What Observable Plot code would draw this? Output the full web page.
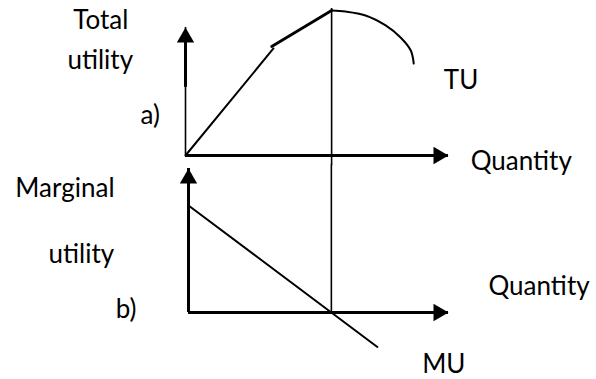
<!DOCTYPE html>
<html>
<head>
<meta charset="utf-8">
<script src="https://cdn.jsdelivr.net/npm/d3@7"></script>
<script src="https://cdn.jsdelivr.net/npm/@observablehq/plot@0.6"></script>
<style>
  html, body { margin: 0; padding: 0; background: white; }
  #chart { width: 596px; height: 379px; position: relative; }
  #chart svg { display: block; overflow: visible; background: transparent; }
</style>
</head>
<body>
<div id="chart"></div>
<script>
// ---- Panel a) Total utility (quantity, utility units) ----
const tuRising = [{q: 0, u: 0}, {q: 3.01, u: 7.38}];
const tuFlattening = [{q: 2.95, u: 7.52}, {q: 5, u: 10}];
const tuFalling = [
  {q: 5, u: 10}, {q: 5.48, u: 9.93}, {q: 6.16, u: 9.66}, {q: 6.85, u: 8.97},
  {q: 7.36, u: 8.14}, {q: 7.71, u: 7.24}, {q: 7.81, u: 6.34}
];
const maxUtilityQuantity = 5;
const topAxisEnd = {q: 9, u: 8.83};
const topLabels = [
  {q: -3.84, u: 8.69, text: "Total"},
  {q: -4.04, u: 6.0, text: "utility"},
  {q: -1.54, u: 2.14, text: "a)"},
  {q: 8.84, u: 4.62, text: "TU"},
  {q: 9.76, u: -0.97, text: "Quantity"}
];

// ---- Panel b) Marginal utility ----
const muLine = [{q: 0, m: 10}, {q: 6.61, m: -3.22}];
const bottomAxisEnd = {q: 9.1, m: 13.46};
const bottomLabels = [
  {q: -6.06, m: 10.75, text: "Marginal"},
  {q: -4.9, m: 4.67, text: "utility"},
  {q: -2.55, m: -0.56, text: "b)"},
  {q: 10.5, m: 1.59, text: "Quantity"},
  {q: 8.18, m: -5.70, text: "MU"}
];

const font = {fontFamily: "Lato, 'Open Sans', sans-serif", fontSize: 26, fill: "black", textAnchor: "start", lineAnchor: "bottom"};
const head = {symbol: "triangle", r: 6.43, fill: "black", stroke: "none"};

const panelA = Plot.plot({
  width: 596, height: 165,
  marginLeft: 185, marginRight: 148, marginTop: 10, marginBottom: 10,
  x: {domain: [0, 9], axis: null},
  y: {domain: [0, 10], axis: null},
  style: {background: "transparent", overflow: "visible"},
  marks: [
    Plot.ruleX([0], {y1: 0, y2: topAxisEnd.u, stroke: "black", strokeWidth: 1.6}),
    Plot.ruleX([0], {y1: 4.7, y2: 7.9, stroke: "black", strokeWidth: 3}),
    Plot.dot([topAxisEnd], {x: () => 0, y: "u", ...head, dy: 10}),
    Plot.ruleY([0], {x1: 0, x2: topAxisEnd.q, stroke: "black", strokeWidth: 3}),
    Plot.dot([topAxisEnd], {x: "q", y: () => 0, ...head, rotate: 90, dx: -10}),
    Plot.ruleX([maxUtilityQuantity], {y1: 10.14, y2: -0.7, stroke: "black", strokeWidth: 1.6}),
    Plot.line(tuRising, {x: "q", y: "u", stroke: "black", strokeWidth: 2}),
    Plot.line(tuFlattening, {x: "q", y: "u", stroke: "black", strokeWidth: 2.8}),
    Plot.line(tuFalling, {x: "q", y: "u", stroke: "black", strokeWidth: 2, curve: "catmull-rom"}),
    Plot.text(topLabels, {x: "q", y: "u", text: "text", ...font})
  ]
});

const panelB = Plot.plot({
  width: 596, height: 214,
  marginLeft: 188, marginRight: 148, marginTop: 40, marginBottom: 67,
  x: {domain: [0, 9.1], axis: null},
  y: {domain: [0, 10], axis: null},
  style: {background: "transparent", overflow: "visible"},
  marks: [
    Plot.ruleX([0], {y1: 0, y2: bottomAxisEnd.m, stroke: "black", strokeWidth: 3}),
    Plot.dot([bottomAxisEnd], {x: () => 0, y: "m", ...head, dy: 10}),
    Plot.ruleY([0], {x1: 0, x2: bottomAxisEnd.q, stroke: "black", strokeWidth: 3}),
    Plot.dot([bottomAxisEnd], {x: "q", y: () => 0, ...head, rotate: 90, dx: -10}),
    Plot.ruleX([maxUtilityQuantity], {y1: 0, y2: 13.8, stroke: "black", strokeWidth: 1.6}),
    Plot.line(muLine, {x: "q", y: "m", stroke: "black", strokeWidth: 2}),
    Plot.text(bottomLabels, {x: "q", y: "m", text: "text", ...font})
  ]
});

const chart = document.getElementById("chart");
chart.appendChild(panelA);
chart.appendChild(panelB);
</script>
</body>
</html>
